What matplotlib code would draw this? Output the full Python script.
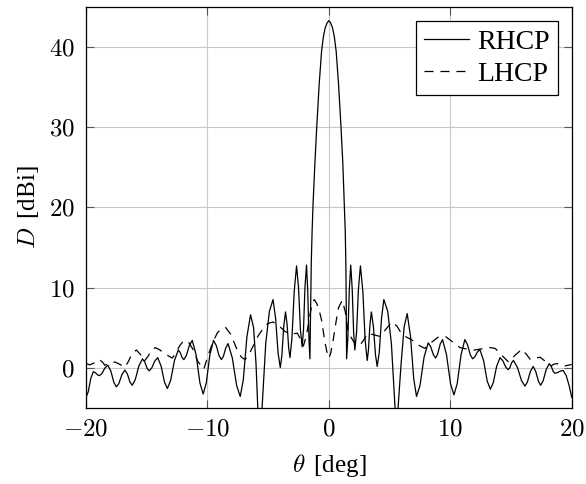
import matplotlib
matplotlib.use('Agg')
import matplotlib.pyplot as plt
from matplotlib.ticker import FuncFormatter

# directivity pattern (theta in deg, D in dBi)
rhcp_theta = [-20.0, -19.82, -19.61, -19.4, -19.225, -19.05, -18.9, -18.69, -18.445, -18.2,
              -17.955, -17.71, -17.5, -17.29, -17.045, -16.8, -16.59, -16.38, -16.2, -15.945,
              -15.65, -15.35, -15.16, -14.965, -14.8, -14.59, -14.345, -14.1, -13.82, -13.54,
              -13.3, -13.03, -12.715, -12.4, -12.24, -12.085, -11.95, -11.74, -11.495, -11.25,
              -10.935, -10.62, -10.35, -10.095, -9.8, -9.5, -9.27, -9.045, -8.85, -8.685,
              -8.49, -8.3, -7.95, -7.6, -7.3, -7.045, -6.75, -6.45, -6.2, -6.0,
              -5.85, -5.75, -5.5, -5.2, -4.9, -4.6, -4.39, -4.18, -4.0, -3.87,
              -3.72, -3.57, -3.44, -3.31, -3.2, -3.04, -2.85, -2.66, -2.5, -2.34,
              -2.2, -2.09, -1.97, -1.84, -1.74, -1.64, -1.56,
              -1.5, -1.45, -1.38, -1.3, -1.15, -1.0, -0.8, -0.6, -0.45, -0.3, -0.15, 0.0,
              0.15, 0.3, 0.45, 0.6, 0.8, 1.0, 1.15, 1.27, 1.35, 1.4, 1.43, 1.46,
              1.56, 1.68, 1.8, 1.92, 2.04, 2.14, 2.28, 2.44, 2.6, 2.8,
              2.99, 3.16, 3.26, 3.38, 3.5, 3.67, 3.84, 3.98, 4.15, 4.34,
              4.53, 4.85, 5.15, 5.45, 5.6, 5.7, 5.95, 6.2, 6.45, 6.72,
              6.99, 7.22, 7.51, 7.84, 8.18, 8.39, 8.61, 8.79, 8.96, 9.16,
              9.36, 9.69, 10.02, 10.3, 10.57, 10.885, 11.2, 11.42, 11.65, 11.84,
              12.02, 12.23, 12.44, 12.74, 13.04, 13.3, 13.54, 13.82, 14.1, 14.33,
              14.57, 14.77, 14.9, 15.05, 15.2, 15.53, 15.87, 16.15, 16.35, 16.59,
              16.83, 17.04, 17.26, 17.44, 17.65, 17.9, 18.15, 18.31, 18.47, 18.6,
              18.81, 19.05, 19.3, 19.55, 19.8, 20.0]
rhcp_d = [-3.7, -3.03, -1.36, -0.5, -0.64, -0.9, -1.0, -0.73, -0.05, 0.3,
          -0.43, -1.83, -2.4, -1.96, -0.87, -0.3, -0.81, -1.8, -2.2, -1.5,
          0.21, 1.1, 0.7, -0.09, -0.4, -0.05, 0.8, 1.25, 0.21, -1.79,
          -2.6, -1.59, 0.9, 2.2, 1.88, 1.25, 1.0, 1.5, 2.75, 3.4,
          1.6, -1.9, -3.3, -1.9, 1.6, 3.4, 2.75, 1.5, 1.0, 1.42,
          2.46, 3.0, 1.2, -2.2, -3.6, -1.5, 3.85, 6.6, 5.0, 0.5,
          -5.0, -9.0, -5.0, 3.0, 7.0, 8.5, 6.2, 1.8, 0.0, 1.5,
          5.1, 6.95, 5.4, 2.45, 1.25, 3.7, 9.6, 12.7, 10.0, 4.7,
          2.6, 4.7, 10.0, 12.8, 9.6, 3.6, 1.1,
          8.0, 13.0, 17.0, 20.5, 25.5, 30.0, 35.3, 39.5, 41.3, 42.4, 43.0, 43.3,
          43.0, 42.4, 41.3, 39.5, 35.3, 30.0, 25.5, 20.5, 17.0, 13.0, 8.0, 1.1,
          3.6, 9.6, 12.8, 9.9, 4.4, 2.2, 4.4, 9.9, 12.7, 9.5,
          3.4, 0.9, 2.2, 5.3, 6.95, 5.1, 1.6, 0.15, 1.9, 6.2,
          8.5, 7.0, 3.0, -5.0, -9.0, -5.0, 0.5, 5.1, 6.75, 3.95,
          -1.4, -3.6, -2.2, 1.3, 3.1, 2.6, 1.6, 1.2, 1.7, 2.9,
          3.5, 1.6, -2.0, -3.4, -2.0, 1.6, 3.5, 2.85, 1.6, 1.1,
          1.34, 1.94, 2.25, 0.9, -1.66, -2.7, -1.87, 0.18, 1.25, 0.85,
          0.06, -0.25, -0.01, 0.59, 0.9, 0.04, -1.63, -2.3, -1.8, -0.5,
          0.15, -0.48, -1.7, -2.2, -1.63, -0.23, 0.5, 0.18, -0.45, -0.7,
          -0.63, -0.44, -0.35, -1.0, -2.3, -3.7]

lhcp_theta = [-20.0, -19.7, -19.3, -18.9, -18.65, -18.45, -18.1, -17.6, -17.2, -16.8,
              -16.5, -16.2, -15.85, -15.5, -15.2, -14.9, -14.6, -14.3, -13.9, -13.6,
              -12.9, -12.6, -12.3, -12.0, -11.6, -11.2, -10.8, -10.3, -9.95, -9.6,
              -9.2, -8.85, -8.5, -8.1, -7.6, -7.2, -6.9, -6.6, -6.2, -5.85,
              -5.5, -5.05, -4.6, -4.1, -3.6, -3.1, -2.6, -2.35, -2.1, -1.85,
              -1.6, -1.4, -1.2, -1.0, -0.8, -0.6, -0.3, -0.1, 0.0, 0.15,
              0.35, 0.6, 0.8, 1.1, 1.35, 1.6, 1.9, 2.2, 2.5, 2.85,
              3.2, 3.7, 4.2, 4.7, 5.2, 5.6, 6.0, 6.4, 6.8, 7.4,
              7.9, 8.4, 9.0, 9.6, 10.2, 10.8, 11.4, 12.0, 12.4, 12.8,
              13.3, 13.7, 14.2, 14.8, 15.3, 15.9, 16.3, 16.6, 17.0, 17.4,
              17.9, 18.3, 18.55, 18.8, 19.1, 19.4, 19.7, 20.0]
lhcp_d = [0.5, 0.35, 0.6, 1.0, 0.7, 0.3, 0.55, 0.7, 0.4, 0.05,
          0.8, 1.8, 2.2, 1.6, 0.8, 1.4, 2.2, 2.5, 2.2, 1.8,
          1.2, 1.8, 2.7, 3.3, 3.3, 2.3, 0.8, -0.2, 1.5, 3.0,
          4.3, 4.9, 5.0, 4.2, 2.4, 1.3, 1.0, 1.6, 2.8, 3.9,
          4.7, 5.5, 5.7, 5.2, 4.5, 4.2, 4.3, 3.6, 2.7, 4.0,
          6.2, 7.9, 8.5, 8.0, 7.2, 5.9, 3.0, 1.5, 1.2, 1.8,
          3.4, 5.8, 7.5, 8.4, 7.0, 4.4, 3.6, 2.9, 2.7, 3.4,
          4.3, 4.1, 3.9, 4.8, 5.7, 5.2, 4.2, 3.8, 3.5, 2.8,
          2.4, 3.1, 3.8, 3.9, 3.2, 2.5, 2.3, 2.2, 2.3, 2.4,
          2.5, 2.4, 1.6, 0.7, 1.5, 2.3, 1.6, 1.0, 1.2, 1.3,
          0.7, 0.2, 0.45, 0.5, 0.35, 0.2, 0.3, 0.4]

x_ticks = [-20, -10, 0, 10, 20]
y_ticks = [0, 10, 20, 30, 40]

plt.rcParams['font.family'] = 'Liberation Serif'
plt.rcParams['mathtext.fontset'] = 'cm'
plt.rcParams['font.size'] = 18
plt.rcParams['lines.scale_dashes'] = False

fig = plt.figure(figsize=(5.86, 4.84), dpi=100)
ax = fig.add_axes([0.1468, 0.1576, 0.8288, 0.8279])

ax.plot(rhcp_theta, rhcp_d, color='black', lw=0.9, label='RHCP')
ax.plot(lhcp_theta, lhcp_d, color='black', lw=0.9, dashes=(6.5, 5), label='LHCP')

ax.set_xlim(-20, 20)
ax.set_ylim(-5, 45)
ax.set_xticks(x_ticks)
ax.set_yticks(y_ticks)
fmt = FuncFormatter(lambda v, p: '$%g$' % v)
ax.xaxis.set_major_formatter(fmt)
ax.yaxis.set_major_formatter(fmt)
ax.tick_params(direction='in', length=6, width=0.8, color='#555555',
               top=True, right=True, pad=8)
ax.grid(True, color='#c8c8c8', lw=0.8)
ax.set_axisbelow(True)
for s in ax.spines.values():
    s.set_linewidth(0.9)

ax.set_xlabel(r'$\theta\,$ [deg]', labelpad=8)
ax.set_ylabel(r'$D\,$ [dBi]', labelpad=6)

leg = ax.legend(loc='upper right', handlelength=1.6, handletextpad=0.3,
                labelspacing=0.25, borderaxespad=0.5, fancybox=False,
                framealpha=1, edgecolor='black', borderpad=0.3, fontsize=20)
leg.get_frame().set_linewidth(0.9)

fig.savefig('out.png', dpi=100)
